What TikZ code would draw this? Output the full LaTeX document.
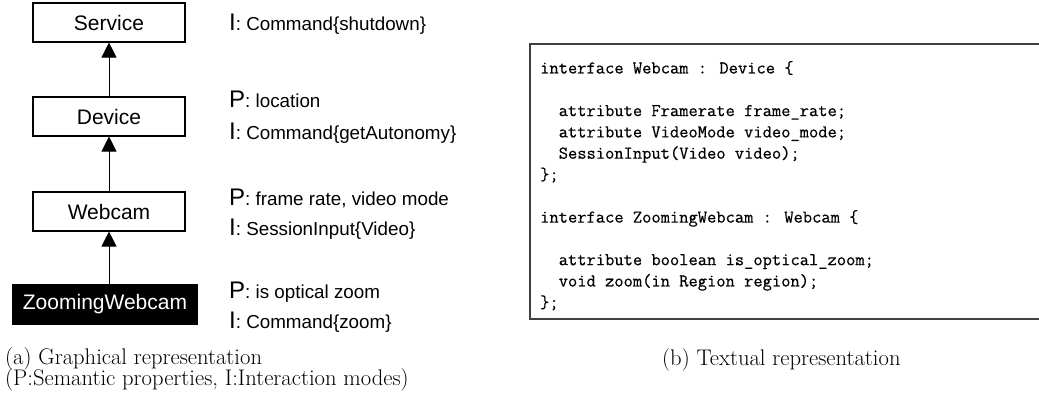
\documentclass[tikz,border=0pt]{standalone}
\usepackage{fontspec}
\newfontfamily\arialf{Liberation Sans}
\newfontfamily\codefont{Latin Modern Mono}[FakeBold=0.5]
\usetikzlibrary{arrows.meta}
\newcommand\bigLetter[1]{{\fontsize{24}{28}\selectfont #1}}
\begin{document}
\begin{tikzpicture}[x=1pt,y=-1pt,
  cls/.style={draw, line width=1.1pt, minimum width=152pt, minimum height=39pt, inner sep=0pt, font=\arialf\fontsize{21}{25}\selectfont},
  inh/.style={line width=0.8pt, -{Triangle[length=15pt,width=15pt]}},
  prop/.style={anchor=base west, inner sep=0pt, font=\arialf\fontsize{18.8}{22}\selectfont},
  codeline/.style={anchor=base west, inner sep=0pt, font=\codefont\fontsize{18}{21}\selectfont},
  captext/.style={anchor=base west, inner sep=0pt, font=\fontsize{22.6}{26}\selectfont},
  codebox/.style={draw=black!75, line width=1.3pt}]
\useasboundingbox (0,0) rectangle (1039,403);
% class hierarchy
\node[cls] (service) at (109,22.5) {Service};
\node[cls] (device) at (109,116.5) {Device};
\node[cls] (webcam) at (109,211.5) {Webcam};
\node[cls, fill=black, text=white, minimum width=184pt] (zwebcam) at (105,304.5) {ZoomingWebcam};
\draw[inh] (device) -- (service);
\draw[inh] (webcam) -- (device);
\draw[inh] (zwebcam.north -| webcam.south) -- (webcam);
% properties / interaction modes
\node[prop] (iservice) at (229,30.6) {\bigLetter{I}: Command\{shutdown\}};
\node[prop] (pdevice) at (229,107.6) {\bigLetter{P}: location};
\node[prop] (idevice) at (229,139.6) {\bigLetter{I}: Command\{getAutonomy\}};
\node[prop] (pwebcam) at (229,205.6) {\bigLetter{P}: frame rate, video mode};
\node[prop] (iwebcam) at (229,235.6) {\bigLetter{I}: SessionInput\{Video\}};
\node[prop] (pzoom) at (229,298.6) {\bigLetter{P}: is optical zoom};
\node[prop] (izoom) at (229,328.6) {\bigLetter{I}: Command\{zoom\}};
% textual representation
\draw[codebox] (1039,44) -- (530,44) -- (530,319) -- (1039,319);
\node[codeline] (c1) at (540,73.5) {interface Webcam : Device \{};
\node[codeline] (c2) at (540,116.1) {\hphantom{xx}attribute Framerate frame\_rate;};
\node[codeline] (c3) at (540,137.4) {\hphantom{xx}attribute VideoMode video\_mode;};
\node[codeline] (c4) at (540,158.7) {\hphantom{xx}SessionInput(Video video);};
\node[codeline] (c5) at (540,180) {\};};
\node[codeline] (c6) at (540,222.6) {interface ZoomingWebcam : Webcam \{};
\node[codeline] (c7) at (540,265.2) {\hphantom{xx}attribute boolean is\_optical\_zoom;};
\node[codeline] (c8) at (540,286.5) {\hphantom{xx}void zoom(in Region region);};
\node[codeline] (c9) at (540,307.8) {\};};
% captions
\node[captext] (capa1) at (5,364) {(a) Graphical representation};
\node[captext] (capa2) at (5,385) {(P:Semantic properties, I:Interaction modes)};
\node[captext] (capb) at (662,365) {(b) Textual representation};
\end{tikzpicture}
\end{document}
